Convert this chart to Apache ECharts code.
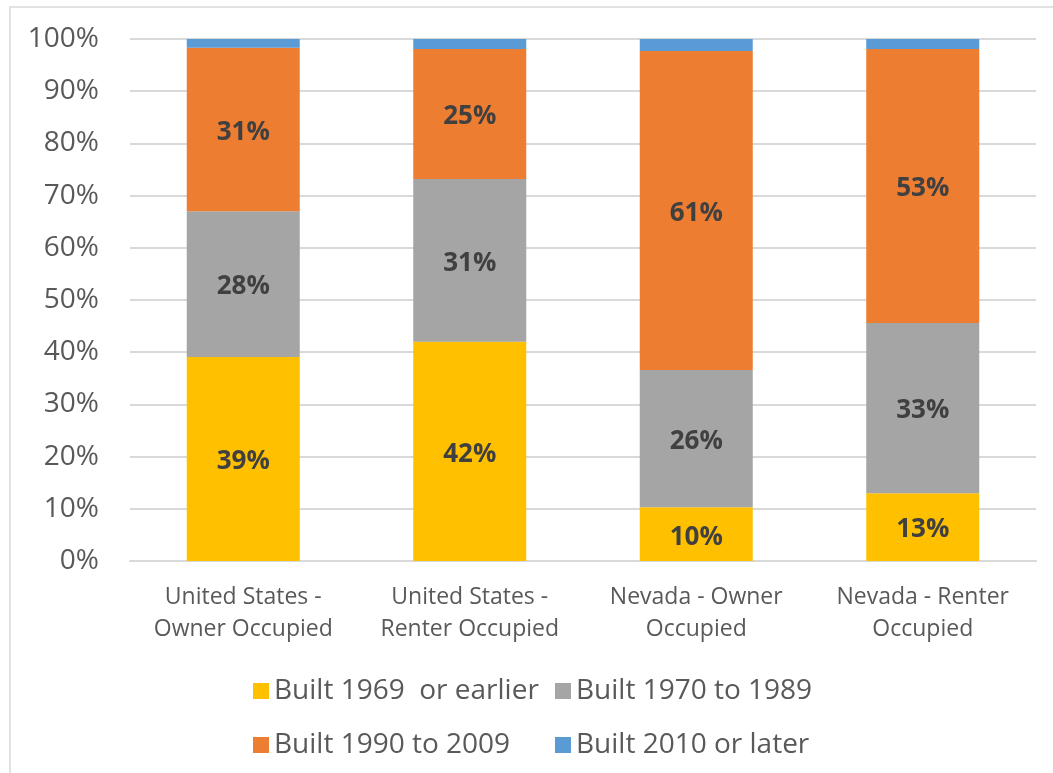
<!DOCTYPE html>
<html>
<head>
<meta charset="utf-8">
<script src="https://cdn.jsdelivr.net/npm/echarts@6/dist/echarts.min.js"></script>
<style>
  html, body { margin: 0; padding: 0; background: #fff; }
  #chart { width: 1053px; height: 773px; }
</style>
</head>
<body>
<div id="chart"></div>
<script>
  // categories and stacked shares (percent of housing units)
  var categories = ['United States -\nOwner Occupied', 'United States -\nRenter Occupied', 'Nevada - Owner\nOccupied', 'Nevada - Renter\nOccupied'];
  var built1969 = [39.1, 42.0, 10.3, 13.0];
  var built1970 = [27.9, 31.2, 26.3, 32.6];
  var built1990 = [31.3, 24.9, 61.1, 52.5];
  var built2010 = [1.7, 1.9, 2.3, 1.9];
  var seriesNames = ['Built 1969  or earlier', 'Built 1970 to 1989', 'Built 1990 to 2009', 'Built 2010 or later'];
  var colors = ['#FFC000', '#A5A5A5', '#ED7D31', '#5B9BD5'];

  var font = '"Open Sans", Lato, sans-serif';

  function makeSeries(name, data, color, showLabel) {
    return {
      name: name,
      type: 'bar',
      stack: 'total',
      barWidth: 113,
      data: data,
      itemStyle: { color: color },
      label: {
        show: showLabel,
        position: 'inside',
        offset: [0, 3],
        color: '#404040',
        fontFamily: font,
        fontWeight: 'bold',
        fontSize: 26,
        formatter: function (p) { return Math.round(p.value) + '%'; }
      }
    };
  }

  var legendText = { color: '#595959', fontFamily: font, fontSize: 28, lineHeight: 30 };

  var myChart = echarts.init(document.getElementById('chart'));
  var option = {
    animation: false,
    color: colors,
    grid: { left: 130, right: 17, top: 39, bottom: 212 },
    graphic: [{
      type: 'rect',
      shape: { x: 10, y: 7, width: 1200, height: 900 },
      style: { fill: 'none', stroke: '#D9D9D9', lineWidth: 1.5 },
      silent: true
    }],
    legend: [{
      orient: 'vertical',
      left: 248,
      top: 671,
      itemWidth: 16,
      itemHeight: 16,
      itemGap: 24,
      icon: 'rect',
      textStyle: legendText,
      data: [seriesNames[0], seriesNames[2]]
    }, {
      orient: 'vertical',
      left: 550,
      top: 671,
      itemWidth: 16,
      itemHeight: 16,
      itemGap: 24,
      icon: 'rect',
      textStyle: legendText,
      data: [seriesNames[1], seriesNames[3]]
    }],
    xAxis: {
      type: 'category',
      data: categories,
      axisTick: { show: false },
      axisLine: { lineStyle: { color: '#D9D9D9', width: 2 } },
      axisLabel: { color: '#595959', fontFamily: font, fontSize: 23, lineHeight: 32, margin: 20, interval: 0 }
    },
    yAxis: {
      type: 'value',
      min: 0,
      max: 100,
      interval: 10,
      axisLine: { show: false },
      axisTick: { show: false },
      splitLine: { lineStyle: { color: '#D9D9D9', width: 2 } },
      axisLabel: { color: '#595959', fontFamily: font, fontSize: 28, margin: 31, formatter: '{value}%' }
    },
    series: [
      makeSeries(seriesNames[0], built1969, colors[0], true),
      makeSeries(seriesNames[1], built1970, colors[1], true),
      makeSeries(seriesNames[2], built1990, colors[2], true),
      makeSeries(seriesNames[3], built2010, colors[3], false)
    ]
  };
  myChart.setOption(option);
</script>
</body>
</html>
